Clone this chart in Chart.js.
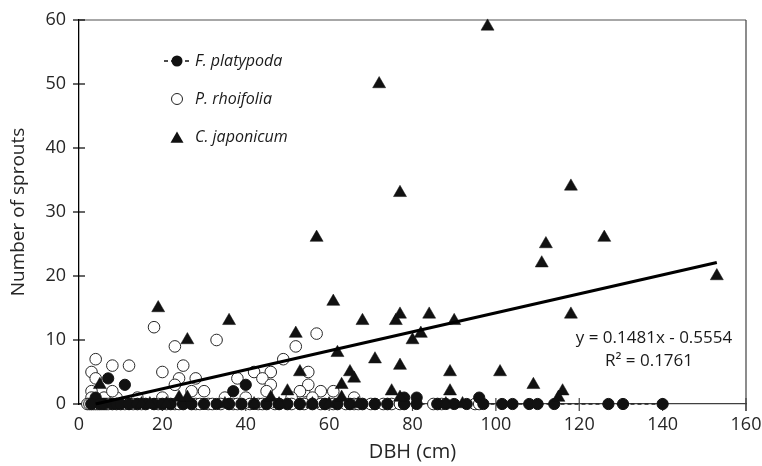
<!DOCTYPE html>
<html><head><meta charset="utf-8">
<script src="https://cdn.jsdelivr.net/npm/chart.js@4.4.1/dist/chart.umd.min.js"></script>
<style>html,body{margin:0;padding:0;background:#fff}canvas{display:block}</style>
</head><body>
<canvas id="c" width="762" height="466"></canvas>
<script>
// ---------- data ----------
const xTicks = [0, 20, 40, 60, 80, 100, 120, 140, 160];
const yTicks = [0, 10, 20, 30, 40, 50, 60];

// F. platypoda (filled circles)
const fpX = [7, 11, 37, 40, 96, 78, 81, 4,
  3, 5, 6, 8, 9, 10, 12, 14, 16, 18, 20, 22, 25, 27, 30, 33, 36, 39, 42, 45, 48, 50, 53, 56, 59, 62, 65, 68, 71, 74, 78, 81, 86, 88, 90, 93, 97, 101.5, 104, 108, 110, 114, 127, 130.5, 140];
const fpY = [4, 3, 2, 3, 1, 1, 1, 1,
  0, 0, 0, 0, 0, 0, 0, 0, 0, 0, 0, 0, 0, 0, 0, 0, 0, 0, 0, 0, 0, 0, 0, 0, 0, 0, 0, 0, 0, 0, 0, 0, 0, 0, 0, 0, 0, 0, 0, 0, 0, 0, 0, 0, 0];

// P. rhoifolia (open circles)
const prX = [18, 33, 57, 23, 52, 4, 8, 12, 25, 49, 20, 3, 4, 24, 28, 42, 46, 44, 38, 46, 54, 30, 23, 3, 3, 55, 55, 58, 61, 53, 40, 20, 14, 9, 6, 8, 27, 45, 51, 56, 66, 35,
  2, 2.5, 3, 3.5, 4, 4.5, 5, 5.5, 6, 6.5, 7, 8, 9, 10, 11, 12, 13, 14, 15, 16, 18, 19, 20, 21, 22, 23, 24, 25, 27, 28, 29, 31, 32, 34, 36, 37, 38, 39, 41, 43, 44, 45, 47, 48, 50, 51, 53, 54, 56, 58, 59, 61, 62, 64, 65, 66, 67, 68, 70, 71, 73, 74, 75, 77, 78, 85, 86, 87, 95, 96];
const prY = [12, 10, 11, 9, 9, 7, 6, 6, 6, 7, 5, 5, 4, 4, 4, 5, 5, 4, 4, 3, 2, 2, 3, 2, 1, 5, 3, 2, 2, 2, 1, 1, 1, 1, 1, 2, 2, 2, 1, 1, 1, 1,
  0, 0, 0, 0, 0, 0, 0, 0, 0, 0, 0, 0, 0, 0, 0, 0, 0, 0, 0, 0, 0, 0, 0, 0, 0, 0, 0, 0, 0, 0, 0, 0, 0, 0, 0, 0, 0, 0, 0, 0, 0, 0, 0, 0, 0, 0, 0, 0, 0, 0, 0, 0, 0, 0, 0, 0, 0, 0, 0, 0, 0, 0, 0, 0, 0, 0, 0, 0, 0, 0];

// C. japonicum (filled triangles)
const cjX = [98, 72, 77, 118, 57, 126, 112, 111, 153, 61, 19, 36, 26, 52, 68, 76, 77, 84, 90, 118, 62, 71, 77, 80, 82, 89, 101, 109, 65, 66, 63, 53, 75, 89, 116, 115, 50, 46, 63, 77, 5, 26, 15, 17, 21, 24, 42, 48, 56, 60, 67, 88, 92, 35];
const cjY = [59, 50, 33, 34, 26, 26, 25, 22, 20, 16, 15, 13, 10, 11, 13, 13, 14, 14, 13, 14, 8, 7, 6, 10, 11, 5, 5, 3, 5, 4, 3, 5, 2, 2, 2, 1, 2, 1, 1, 1, 3, 1, 0, 0, 0, 1, 0, 0, 0, 0, 0, 0, 0, 0];

// trend line for C. japonicum (end points)
const trendX = [4, 153];
const trendY = [0.0, 22.1];
const trendLabel = ["y = 0.1481x - 0.5554", "R\u00b2 = 0.1761"];

const legendNames = ["F. platypoda", "P. rhoifolia", "C. japonicum"];

// ---------- build ----------
const FONT = "'Open Sans', sans-serif";
const pts = (xs, ys) => xs.map((x, i) => ({x: x, y: ys[i]}));
const fpZero = pts(fpX, fpY).filter(p => p.y === 0).sort((a, b) => a.x - b.x);

function tri(ctx, x, y, r) {
  ctx.beginPath();
  ctx.moveTo(x, y - r);
  ctx.lineTo(x + 0.866 * r, y + 0.5 * r);
  ctx.lineTo(x - 0.866 * r, y + 0.5 * r);
  ctx.closePath();
  ctx.fill();
}

const decor = {
  id: 'decor',
  beforeDatasetsDraw(chart) {
    const {ctx, chartArea: a, scales: {x, y}} = chart;
    ctx.save();
    ctx.strokeStyle = '#8a8a8a'; ctx.lineWidth = 1.5;
    ctx.beginPath(); ctx.moveTo(a.left, a.top); ctx.lineTo(a.right, a.top); ctx.stroke();
    ctx.strokeStyle = '#404040'; ctx.lineWidth = 1.2;
    ctx.beginPath(); ctx.moveTo(a.right, a.top); ctx.lineTo(a.right, a.bottom + 7); ctx.stroke();
    ctx.strokeStyle = '#000'; ctx.lineWidth = 1.2;
    yTicks.forEach(v => {
      const py = y.getPixelForValue(v);
      ctx.beginPath(); ctx.moveTo(a.left - 6, py); ctx.lineTo(a.left + 6, py); ctx.stroke();
    });
    ctx.strokeStyle = '#404040';
    xTicks.forEach(v => {
      if (v === 0) return;
      const px = x.getPixelForValue(v);
      ctx.beginPath(); ctx.moveTo(px, a.bottom - 6); ctx.lineTo(px, a.bottom + 7); ctx.stroke();
    });
    ctx.restore();
  },
  afterDraw(chart) {
    const {ctx} = chart;
    ctx.save();
    // legend
    const lx = 177, tx = 195, rows = [61, 99, 137];
    ctx.fillStyle = '#111'; ctx.strokeStyle = '#111';
    ctx.lineWidth = 1.6; ctx.setLineDash([4, 3]);
    ctx.beginPath(); ctx.moveTo(164, rows[0]); ctx.lineTo(191, rows[0]); ctx.stroke();
    ctx.setLineDash([]);
    ctx.beginPath(); ctx.arc(lx, rows[0], 5.5, 0, Math.PI * 2); ctx.fill();
    ctx.lineWidth = 1; ctx.strokeStyle = '#222'; ctx.fillStyle = '#fff';
    ctx.beginPath(); ctx.arc(lx, rows[1], 5.5, 0, Math.PI * 2); ctx.fill(); ctx.stroke();
    ctx.fillStyle = '#111';
    tri(ctx, lx, rows[2] + 2, 7.5);
    ctx.font = "italic 16px " + FONT;
    ctx.fillStyle = '#1a1a1a'; ctx.textBaseline = 'middle'; ctx.textAlign = 'left';
    legendNames.forEach((n, i) => ctx.fillText(n, tx, rows[i]));
    // equation
    ctx.font = "17px " + FONT; ctx.textAlign = 'center';
    ctx.fillText(trendLabel[0], 654, 338);
    ctx.fillText(trendLabel[1], 649, 361);
    ctx.restore();
  }
};

const ptBase = {clip: false, showLine: false};

new Chart(document.getElementById('c'), {
  type: 'scatter',
  data: {
    datasets: [
      {label: 'trend', data: pts(trendX, trendY), showLine: true, borderColor: '#000', borderWidth: 3.2,
       pointRadius: 0, order: 0, clip: false},
      Object.assign({label: legendNames[2], data: pts(cjX, cjY), pointStyle: 'triangle', pointRadius: 7.5,
       backgroundColor: '#111', borderColor: '#111', borderWidth: 0.5, order: 1}, ptBase),
      Object.assign({label: legendNames[0], data: pts(fpX, fpY), pointStyle: 'circle', pointRadius: 5.6,
       backgroundColor: '#111', borderColor: '#111', borderWidth: 1, order: 2}, ptBase),
      Object.assign({label: legendNames[1], data: pts(prX, prY), pointStyle: 'circle', pointRadius: 5.8,
       backgroundColor: '#fff', borderColor: '#262626', borderWidth: 1, order: 3}, ptBase),
      {label: 'fp-line', data: fpZero, showLine: true, borderColor: '#222', borderWidth: 1.5,
       borderDash: [4, 3], pointRadius: 0, order: 4, clip: false}
    ]
  },
  options: {
    responsive: false, animation: false, devicePixelRatio: 1,
    layout: {padding: {top: 20, right: 16, left: 0, bottom: 0}},
    plugins: {legend: {display: false}, tooltip: {enabled: false}},
    scales: {
      x: {
        type: 'linear', min: 0, max: 160,
        afterFit: s => { s.height = 62; s.paddingLeft = 0; s.paddingRight = 0; },
        afterBuildTicks: s => { s.ticks = xTicks.map(v => ({value: v})); },
        grid: {display: false, drawTicks: false},
        border: {display: true, color: '#404040', width: 1.3},
        ticks: {padding: 10, color: '#262626', font: {family: FONT, size: 18}, maxRotation: 0},
        title: {display: true, text: 'DBH (cm)', color: '#262626', font: {family: FONT, size: 20},
                padding: {top: 0, bottom: 2}}
      },
      y: {
        type: 'linear', min: 0, max: 60,
        afterFit: s => { s.width = 79; s.paddingTop = 0; s.paddingBottom = 0; },
        afterBuildTicks: s => { s.ticks = yTicks.map(v => ({value: v})); },
        grid: {display: false, drawTicks: false},
        border: {display: true, color: '#000', width: 1.3},
        ticks: {padding: 13, color: '#262626', font: {family: FONT, size: 18}},
        title: {display: true, text: 'Number of sprouts', color: '#262626', font: {family: FONT, size: 19},
                padding: {top: 7, bottom: 0}}
      }
    }
  },
  plugins: [decor]
});
</script>
</body></html>
